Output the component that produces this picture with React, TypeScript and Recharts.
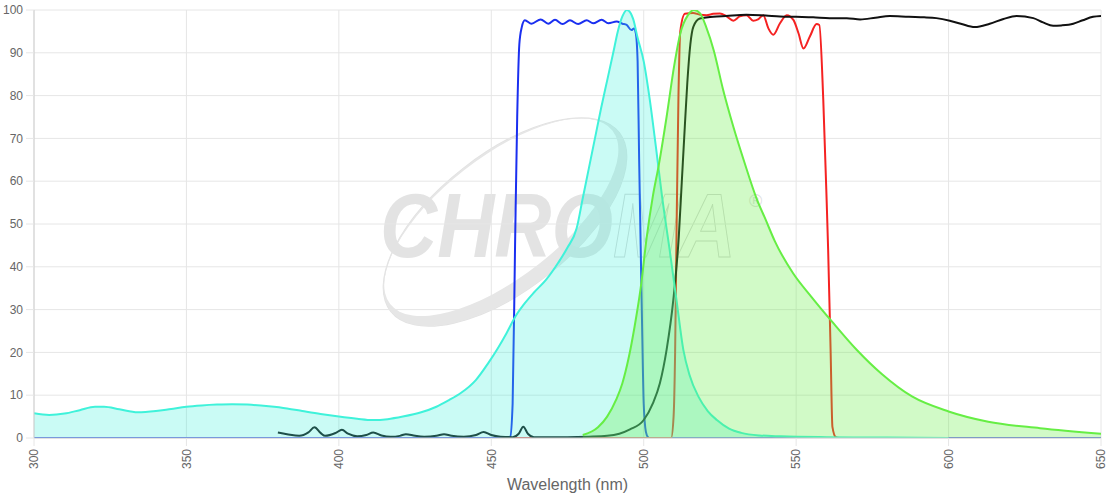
import { Area, CartesianGrid, ComposedChart, Label, XAxis, YAxis } from "recharts";

// [wavelength nm, % transmission / intensity]
const excitationSpectrum: [number, number][] = [
  [300, 5.8], [305, 5.4], [310, 5.7], [315, 6.5], [320, 7.3], [323, 7.3], [328, 6.7], [334, 6.0],
  [340, 6.3], [345, 6.8], [350, 7.3], [355, 7.6], [360, 7.8], [365, 7.9], [370, 7.8], [377, 7.4],
  [383, 6.9], [388, 6.3], [394, 5.6], [400, 5.0], [406, 4.5], [411, 4.2], [416, 4.4], [421, 5.0],
  [427, 6.0], [432, 7.3], [436, 8.8], [440, 10.5], [445, 13.6], [449, 17.5], [452, 20.8], [455, 24.5],
  [458, 28.5], [461, 31.5], [464, 34.0], [468, 37.0], [472, 41.0], [475, 44.5], [478, 49], [480, 56],
  [482, 63], [484, 70], [486, 77], [488, 83.5], [490, 90], [491.5, 95], [493, 98.5], [494.5, 100],
  [496.5, 98], [498, 93.5], [500, 88], [502, 79], [504, 68], [506, 56.5], [508.5, 44], [510.8, 32],
  [513, 20.6], [515, 14.8], [518, 9.6], [521, 6.3], [524, 4.2], [528, 2.2], [532, 1.2], [538, 0.6],
  [545, 0.4], [560, 0.2], [580, 0.1], [600, 0],
];

const emissionSpectrum: [number, number][] = [
  [480, 0.7], [485, 2.5], [488, 5], [491, 9], [493, 12.8], [495, 18.5], [497, 26], [499, 35],
  [501, 47], [503, 56.5], [505, 64], [507.5, 75], [510, 87], [512, 94.5], [514.5, 98.8], [516.5, 100],
  [518.5, 99.2], [520.5, 96], [523, 90.5], [526, 81.5], [529.5, 72.5], [533, 64.5], [537, 56], [540, 51],
  [543, 46], [549, 38.5], [555, 33], [562, 27], [570, 20.5], [578, 15], [588, 9.7], [600, 6.2],
  [613, 3.8], [630, 2.3], [650, 1.0],
];

const excitationFilter: [number, number][] = [
  [300, 0], [455, 0], [456.2, 0.3], [457, 8], [457.8, 45], [458.5, 75], [459.2, 92], [460, 96],
  [461, 97.6], [463.2, 96.8], [466.2, 97.8], [468.7, 96.8], [470.9, 97.7], [473.4, 96.7], [475.8, 97.6],
  [478.5, 96.7], [481.3, 97.6], [483.4, 96.9], [486.2, 97.7], [488.4, 96.9], [491.1, 97.3], [493, 96.8],
  [494.4, 96.5], [496, 95.3], [496.8, 95.7], [497.4, 94.6], [498, 88], [498.5, 65], [499, 45],
  [499.5, 25], [500, 8], [500.7, 1.5], [501.4, 0.2], [502, 0], [650, 0],
];

const emissionFilter: [number, number][] = [
  [455, 0], [509, 0], [509.8, 5], [510.3, 20], [510.8, 50], [511.4, 80], [512, 95], [513.5, 99.1],
  [516.2, 99.3], [518.5, 98.9], [520.6, 98.8], [522.8, 99.1], [525, 99.2], [527.2, 98.5], [529.4, 97.5],
  [531.5, 98.5], [533.7, 98.8], [535.9, 97.5], [537.5, 97.8], [539.2, 98.8], [540.9, 95.7], [542.5, 94.2],
  [544.7, 96.9], [546.9, 98.8], [549.1, 97.7], [550.8, 94.5], [552.4, 91.0], [554.5, 93.8], [556.7, 96.7],
  [557.6, 96.5], [558.9, 79], [560, 55.6], [560.5, 43.9], [561.3, 20.6], [561.9, 2.6], [563, 0.2], [564, 0],
];

const dichroic: [number, number][] = [
  [380, 1.3], [383, 0.9], [387, 0.5], [390, 1.3], [392, 2.5], [394, 1.2], [395.5, 0.5], [399, 1.2],
  [401, 1.9], [403, 1.0], [406, 0.4], [409, 0.7], [411.3, 1.3], [414, 0.6], [417, 0.3], [420, 0.5],
  [422, 0.9], [425, 0.5], [428, 0.3], [432, 0.5], [434.5, 0.9], [437, 0.5], [441, 0.3], [445, 0.7],
  [447.5, 1.4], [450, 0.7], [453, 0.3], [457, 0.2], [459, 1.0], [460.5, 2.6], [462, 1.0], [464, 0.2],
  [475, 0.2], [482, 0.3], [488, 0.5], [492, 1.0], [495.5, 2.0], [500, 4.2], [503, 8.1], [505.3, 12.8],
  [507.5, 20.6], [509.7, 32.2], [511.5, 47], [512.5, 60], [513.5, 73], [514.3, 83], [515.3, 92],
  [516.3, 96.1], [518.4, 98], [522.8, 98.4], [527, 98.6], [533.7, 98.9], [540, 98.7], [544.7, 98.5],
  [550, 98.4], [555.6, 98.3], [561, 98.1], [566.6, 98.1], [571, 97.8], [576, 98.2], [580.7, 98.6],
  [587, 98.4], [592, 98.3], [596, 98.1], [600.4, 97.5], [604, 96.8], [608.6, 96.0], [613.5, 96.8],
  [618, 97.9], [622.3, 98.6], [627.8, 98.1], [631, 97.1], [634.3, 96.3], [637, 96.4], [640.9, 96.8],
  [644, 97.6], [647.4, 98.4], [650, 98.6],
];

const xTicks = [300, 350, 400, 450, 500, 550, 600, 650];
const yTicks = [0, 10, 20, 30, 40, 50, 60, 70, 80, 90, 100];

const FONT = "'Liberation Sans', Arial, Helvetica, sans-serif";
const GRID = "#e6e6e6";

const pts = (arr: [number, number][]) => arr.map(([nm, v]) => ({ nm, v }));

function XTick(props: any) {
  const { x, y, payload } = props;
  return (
    <text
      x={x}
      y={y}
      transform={`rotate(-90 ${x} ${y})`}
      textAnchor="end"
      dy={4.3}
      fill="#666"
      fontSize={12}
      fontFamily={FONT}
    >
      {payload.value}
    </text>
  );
}

// faint logo behind the plot
function Watermark() {
  return (
    <svg width={1120} height={500} style={{ position: "absolute", left: 0, top: 0 }}>
      <g transform="rotate(-38 505 222)">
        <ellipse cx={505} cy={222} rx={145} ry={68} fill="none" stroke="#e2e2e2" strokeWidth={1.3} />
        <path
          fillRule="evenodd"
          fill="#e6e6e6"
          d="M360,222 a145,68 0 1,0 290,0 a145,68 0 1,0 -290,0 Z M364,216 a141,60 0 1,0 282,0 a141,60 0 1,0 -282,0 Z"
        />
      </g>
      <text
        x={380}
        y={257}
        fontFamily={FONT}
        fontWeight="bold"
        fontStyle="italic"
        fontSize={90}
        textLength={356}
        lengthAdjust="spacingAndGlyphs"
      >
        <tspan fill="#e3e3e3">CHRO</tspan>
        <tspan fill="none" stroke="#d8d8d8" strokeWidth={1}>MA</tspan>
      </text>
      <text x={749} y={207} fontFamily={FONT} fontSize={18} fill="#e0e0e0">
        ®
      </text>
    </svg>
  );
}

export default function App() {
  return (
    <div style={{ position: "absolute", left: 0, top: 0, width: 1120, height: 500, background: "#fff" }}>
      <Watermark />
      <div style={{ position: "absolute", left: 0, top: 0 }}>
        <ComposedChart width={1120} height={500} margin={{ top: 10, right: 19, bottom: 0, left: 0 }}>
          <CartesianGrid stroke={GRID} />
          <XAxis
            dataKey="nm"
            type="number"
            domain={[300, 650]}
            ticks={xTicks}
            interval={0}
            allowDataOverflow
            height={62}
            tickSize={8}
            tickMargin={3}
            tickLine={{ stroke: GRID }}
            axisLine={{ stroke: "#cfcfcf" }}
            tick={<XTick />}
          >
            <Label
              value="Wavelength (nm)"
              position="insideBottom"
              offset={10}
              fill="#666"
              fontSize={16}
              fontFamily={FONT}
            />
          </XAxis>
          <YAxis
            type="number"
            domain={[0, 100]}
            ticks={yTicks}
            interval={0}
            allowDataOverflow
            width={34}
            tickSize={8}
            tickMargin={3}
            tickLine={{ stroke: GRID }}
            axisLine={{ stroke: "#cfcfcf" }}
            tick={{ fill: "#666", fontSize: 12, fontFamily: FONT }}
          />
          {/* filter curves as unfilled areas so the spectra fills sit on top of them */}
          <Area data={pts(excitationFilter)} dataKey="v" type="monotone" stroke="#1a2ff0" strokeWidth={2} fill="none" dot={false} activeDot={false} isAnimationActive={false} />
          <Area data={pts(emissionFilter)} dataKey="v" type="monotone" stroke="#f52222" strokeWidth={2} fill="none" dot={false} activeDot={false} isAnimationActive={false} />
          <Area data={pts(dichroic)} dataKey="v" type="monotone" stroke="#111111" strokeWidth={2} fill="none" dot={false} activeDot={false} isAnimationActive={false} />
          <Area data={pts(excitationSpectrum)} dataKey="v" type="monotone" stroke="#3ff2da" strokeWidth={2} fill="#3ff2da" fillOpacity={0.28} dot={false} activeDot={false} isAnimationActive={false} />
          <Area data={pts(emissionSpectrum)} dataKey="v" type="monotone" stroke="#66ee44" strokeWidth={2} fill="#66ee44" fillOpacity={0.3} dot={false} activeDot={false} isAnimationActive={false} />
        </ComposedChart>
      </div>
    </div>
  );
}
